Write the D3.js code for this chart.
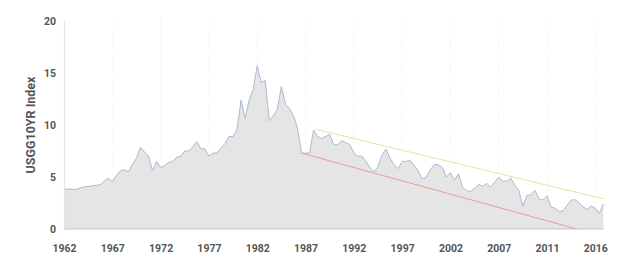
<!DOCTYPE html>
<html>
<head>
<meta charset="utf-8">
<script src="https://cdn.jsdelivr.net/npm/d3@7"></script>
<style>
  body { margin: 0; background: #fff; }
  text { font-family: Roboto, "Liberation Sans", sans-serif; font-weight: bold; fill: #555; }
</style>
</head>
<body>
<script>
const w = 630;
const h = 262;

// x axis labels, one every 12 observations
const tickLabels = ["1962","1967","1972","1977","1982","1987","1992","1997","2002","2007","2011","2016"];
const pointsPerTick = 12;
const yTicks = [0, 5, 10, 15, 20];

// USGG10YR index
const values = [
  3.8, 3.85, 3.8, 3.8, 3.95, 4.05, 4.1, 4.15, 4.2, 4.25, 4.6, 4.9,
  4.55, 5.15, 5.6, 5.7, 5.5, 6.2, 6.8, 7.85, 7.4, 7.0, 5.6, 6.5,
  5.9, 6.1, 6.4, 6.5, 6.9, 7.0, 7.5, 7.5, 7.9, 8.4, 7.7, 7.7,
  7.0, 7.3, 7.3, 7.8, 8.2, 8.9, 8.9, 9.6, 12.4, 10.6, 12.4, 13.4,
  15.7, 14.1, 14.3, 10.4, 10.9, 11.5, 13.7, 12.0, 11.6, 10.9, 9.7, 7.3,
  7.3, 7.3, 9.5, 8.9, 8.7, 8.9, 9.1, 8.1, 8.1, 8.5, 8.3, 8.1,
  7.3, 7.0, 7.0, 6.5, 5.9, 5.5, 6.0, 7.1, 7.7, 6.8, 6.2, 5.8,
  6.5, 6.5, 6.6, 6.1, 5.6, 4.8, 5.0, 5.7, 6.2, 6.2, 5.9, 5.0,
  5.4, 4.7, 5.3, 4.0, 3.7, 3.6, 3.9, 4.3, 4.1, 4.4, 4.0, 4.5,
  5.0, 4.6, 4.6, 4.9, 4.2, 3.7, 2.2, 3.2, 3.3, 3.7, 2.9, 2.8,
  3.2, 2.1, 2.0, 1.7, 1.75, 2.3, 2.8, 2.8, 2.5, 2.1, 1.9, 2.2,
  2.0, 1.5, 2.4
];

// trend lines: [observation index, value]
const upperTrend = [[62.4, 9.6], [134, 2.9]];
const lowerTrend = [[59, 7.3], [127.4, 0]];

const plotLeft = 64, plotRight = 603.4, plotTop = 21, plotBottom = 229;

const xScale = d3.scaleLinear()
                 .domain([0, values.length - 1])
                 .range([plotLeft, plotRight]);

const yScale = d3.scaleLinear()
                 .domain([0, 20])
                 .range([plotBottom, plotTop]);

const svg = d3.select("body")
              .append("svg")
              .attr("width", w)
              .attr("height", h);

// vertical dashed grid
const tickIdx = tickLabels.map((d, i) => i * pointsPerTick);
svg.append("g")
   .selectAll("line")
   .data(tickIdx)
   .enter()
   .append("line")
   .attr("x1", d => xScale(d))
   .attr("x2", d => xScale(d))
   .attr("y1", plotTop)
   .attr("y2", plotBottom)
   .attr("stroke", "#f2f2f2")
   .attr("stroke-dasharray", "3,3");

const area = d3.area()
               .x((d, i) => xScale(i))
               .y0(yScale(0))
               .y1(d => yScale(d));

const line = d3.line()
               .x((d, i) => xScale(i))
               .y(d => yScale(d));

svg.append("path")
   .datum(values)
   .attr("d", area)
   .attr("fill", "#e5e5e5");

svg.append("path")
   .datum(values)
   .attr("d", line)
   .attr("fill", "none")
   .attr("stroke", "#a9bbd3")
   .attr("stroke-width", 1);

const trend = d3.line()
                .x(d => xScale(d[0]))
                .y(d => yScale(d[1]));

svg.append("path")
   .datum(upperTrend)
   .attr("d", trend)
   .attr("fill", "none")
   .attr("stroke", "#dfe7a3")
   .attr("stroke-width", 1);

svg.append("path")
   .datum(lowerTrend)
   .attr("d", trend)
   .attr("fill", "none")
   .attr("stroke", "#ec9a9c")
   .attr("stroke-width", 1);

// axes
const xAxis = d3.axisBottom(xScale)
                .tickValues(tickIdx)
                .tickFormat((d, i) => tickLabels[i])
                .tickSize(0)
                .tickPadding(15.5);

const yAxis = d3.axisLeft(yScale)
                .tickValues(yTicks)
                .tickSize(0)
                .tickPadding(8);

const gx = svg.append("g")
              .attr("id", "x-axis")
              .attr("transform", "translate(0," + plotBottom + ")")
              .call(xAxis);
gx.select(".domain").attr("stroke", "#c4c4c4").attr("d", "M" + plotLeft + ",0H" + plotRight);
gx.selectAll("text").style("font-size", "10.5px");

const gy = svg.append("g")
              .attr("id", "y-axis")
              .attr("transform", "translate(" + plotLeft + ",0)")
              .call(yAxis);
gy.select(".domain").attr("stroke", "#e2e2e2");
gy.selectAll("text").style("font-size", "10.5px");

svg.append("text")
   .attr("transform", "translate(34.5," + (plotTop + plotBottom) / 2 + ") rotate(-90)")
   .attr("text-anchor", "middle")
   .style("font-size", "12.5px")
   .text("USGG10YR Index");
</script>
</body>
</html>
